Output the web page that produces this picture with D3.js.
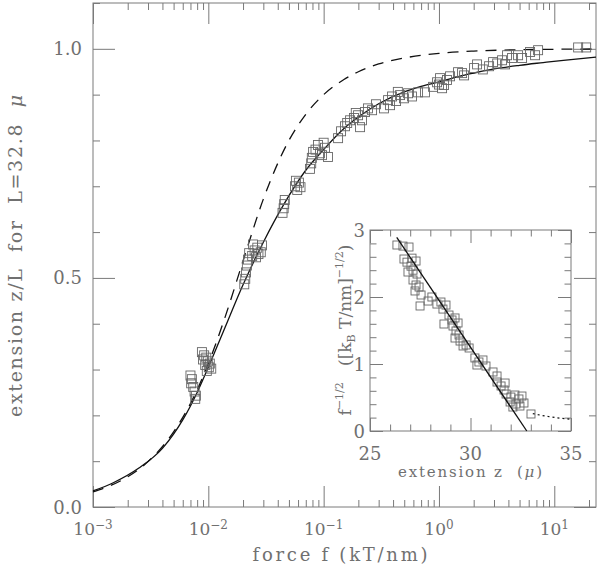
<!DOCTYPE html>
<html>
<head>
<meta charset="utf-8">
<script src="https://cdn.jsdelivr.net/npm/d3@7.9.0/dist/d3.min.js"></script>
<style>
body { margin: 0; background: #fff; }
svg { display: block; }
text { font-family: "DejaVu Serif", serif; fill: #707070; }
</style>
</head>
<body>
<svg width="600" height="573"></svg>
<script>
// ---- main panel: extension vs force ----
// solid curve (fit)
const wlcForce = [0.001, 0.0015, 0.0025, 0.004, 0.006, 0.008, 0.01, 0.0135, 0.02, 0.03, 0.045, 0.07, 0.1, 0.15, 0.2, 0.3, 0.5, 0.7, 1, 1.5, 2, 3, 5, 8, 12, 23];
const wlcExt   = [0.035, 0.053, 0.085, 0.128, 0.19, 0.25, 0.305, 0.383, 0.485, 0.578, 0.66, 0.735, 0.78, 0.826, 0.851, 0.88, 0.906, 0.918, 0.928, 0.94, 0.947, 0.956, 0.964, 0.97, 0.975, 0.982];
// dashed curve
const fjcForce = [0.001, 0.002, 0.003, 0.005, 0.007, 0.01, 0.014, 0.02, 0.03, 0.05, 0.07, 0.1, 0.15, 0.2, 0.3, 0.5, 1, 2, 5, 10, 23];
const fjcExt   = [0.033, 0.066, 0.099, 0.164, 0.226, 0.313, 0.415, 0.537, 0.672, 0.8, 0.857, 0.9, 0.933, 0.95, 0.967, 0.98, 0.99, 0.995, 0.998, 0.999, 0.9996];
// measured points
const dataForce = [
  0.0070, 0.0072, 0.0071, 0.0074, 0.0076, 0.0078, 0.0077,
  0.0088, 0.0092, 0.0096, 0.0099, 0.0103, 0.0090, 0.0094, 0.0101, 0.0106, 0.0097,
  0.0205, 0.0209, 0.0212, 0.0216, 0.0221, 0.0226, 0.0244, 0.0252, 0.0259, 0.0266, 0.0272, 0.0285, 0.0292, 0.0240,
  0.0440, 0.0450, 0.0455, 0.0460, 0.0565, 0.0590, 0.0610, 0.0630, 0.0575,
  0.0762, 0.0780, 0.0790, 0.0810, 0.0894, 0.0930, 0.0968, 0.1028, 0.1090, 0.1000, 0.0850,
  0.1334, 0.1416, 0.1533, 0.1695, 0.1835, 0.1988, 0.2069, 0.2153, 0.2286, 0.2426, 0.263, 0.2847, 0.160, 0.190,
  0.334, 0.3766, 0.362, 0.392, 0.4246, 0.46, 0.498, 0.5395, 0.584, 0.6587, 0.757, 0.44,
  0.889, 0.963, 1.022, 1.064, 1.107, 1.175, 1.248, 1.464, 1.651, 1.0,
  1.586, 2.016, 2.14, 2.72, 2.946, 3.526, 3.744, 3.895, 4.305, 4.853, 5.256, 6.166, 6.815, 7.237, 2.4, 3.2,
  16.1, 18.9
];
const dataExt = [
  0.287, 0.279, 0.270, 0.262, 0.252, 0.243, 0.236,
  0.338, 0.331, 0.326, 0.318, 0.313, 0.322, 0.310, 0.305, 0.302, 0.297,
  0.486, 0.498, 0.512, 0.527, 0.540, 0.554, 0.573, 0.560, 0.545, 0.566, 0.552, 0.556, 0.571, 0.548,
  0.642, 0.652, 0.661, 0.670, 0.700, 0.692, 0.708, 0.698, 0.712,
  0.738, 0.750, 0.762, 0.775, 0.790, 0.772, 0.768, 0.784, 0.764, 0.795, 0.780,
  0.805, 0.820, 0.831, 0.844, 0.849, 0.855, 0.829, 0.844, 0.862, 0.870, 0.866, 0.879, 0.838, 0.860,
  0.870, 0.877, 0.888, 0.896, 0.886, 0.899, 0.892, 0.903, 0.896, 0.905, 0.905, 0.906,
  0.917, 0.927, 0.936, 0.914, 0.921, 0.932, 0.940, 0.949, 0.942, 0.922,
  0.947, 0.958, 0.966, 0.962, 0.971, 0.975, 0.966, 0.986, 0.980, 0.986, 0.980, 0.993, 0.986, 0.997, 0.955, 0.968,
  1.003, 1.003
];
const xMajor = [1e-3, 1e-2, 1e-1, 1, 10];
const xExpLabels = ['\u22123', '\u22122', '\u22121', '0', '1'];
const yMajor = [0, 0.5, 1.0];
const yLabels = ['0.0', '0.5', '1.0'];

// ---- inset: f^-1/2 vs extension ----
const insetZ = [26.34, 26.64, 26.94, 26.69, 26.84, 27.09, 27.29, 27.04, 26.89, 27.14, 27.34, 27.14, 27.29, 27.24, 27.44, 27.54, 27.49, 28.08, 27.89, 28.33, 28.53, 28.78, 28.63, 28.68, 28.93, 29.08, 29.23, 29.13, 29.38, 29.28, 29.43, 29.23, 29.48, 29.63, 29.78, 29.93, 30.22, 30.42, 30.62, 30.32, 30.77, 31.12, 31.32, 31.32, 31.52, 31.72, 31.67, 31.77, 32.01, 32.21, 32.41, 32.56, 31.97, 32.26, 32.46, 32.66, 32.11, 33.01];
const insetF = [2.776, 2.76, 2.746, 2.567, 2.52, 2.58, 2.537, 2.46, 2.373, 2.40, 2.343, 2.254, 2.179, 2.09, 2.149, 2.03, 1.866, 2.0, 1.94, 1.895, 1.925, 1.88, 1.82, 1.597, 1.731, 1.657, 1.687, 1.567, 1.612, 1.493, 1.433, 1.388, 1.343, 1.269, 1.284, 1.239, 1.09, 1.03, 1.06, 0.985, 0.97, 0.881, 0.821, 0.731, 0.672, 0.716, 0.612, 0.552, 0.507, 0.537, 0.478, 0.522, 0.433, 0.403, 0.373, 0.418, 0.358, 0.254];
const fitZ = [26.33, 32.8];
const fitF = [2.89, 0];
const tailZ = [33.1, 33.5, 34, 34.5, 35];
const tailF = [0.26, 0.235, 0.21, 0.19, 0.175];
const zMajor = [25, 30, 35];
const fMajor = [0, 1, 2, 3];

const frameColor = '#7a7a7a';
const svg = d3.select('svg');

// scales
const x = d3.scaleLog().domain([1e-3, 23]).range([93, 596]);
const y = d3.scaleLinear().domain([0, 1.1]).range([507, 3]);
const xi = d3.scaleLinear().domain([25, 35]).range([370, 571]);
const yi = d3.scaleLinear().domain([0, 3]).range([431, 230]);

// draw inward ticks with d3 axes, labels done separately
function drawTicks(axis, tx, ty, values, size) {
  const g = svg.append('g')
    .attr('transform', `translate(${tx},${ty})`)
    .call(axis.tickValues(values).tickSize(size).tickSizeOuter(0).tickFormat(''));
  g.select('.domain').remove();
  g.selectAll('line').attr('stroke', frameColor).attr('stroke-width', 1);
}

// main frame
svg.append('rect')
  .attr('x', 93).attr('y', 3).attr('width', 503).attr('height', 504)
  .attr('fill', 'none').attr('stroke', frameColor);

const xMinor = d3.range(-3, 2).flatMap(e => d3.range(2, 10).map(m => m * Math.pow(10, e))).filter(v => v <= 23);
const yMinor = d3.range(0, 1.11, 0.1).filter(v => Math.abs(v * 2 - Math.round(v * 2)) > 0.01);

drawTicks(d3.axisBottom(x), 0, 507, xMajor, -21);
drawTicks(d3.axisBottom(x), 0, 507, xMinor, -7);
drawTicks(d3.axisTop(x), 0, 3, xMajor, -21);
drawTicks(d3.axisTop(x), 0, 3, xMinor, -7);
drawTicks(d3.axisLeft(y), 93, 0, yMajor, -22);
drawTicks(d3.axisLeft(y), 93, 0, yMinor, -7);
drawTicks(d3.axisRight(y), 596, 0, yMajor, -22);
drawTicks(d3.axisRight(y), 596, 0, yMinor, -7);

// x tick labels 10^n
xMajor.forEach((v, i) => {
  const t = svg.append('text')
    .attr('x', x(v)).attr('y', 535)
    .attr('text-anchor', 'middle')
    .style('font-size', '17px');
  t.append('tspan').text('10');
  t.append('tspan').attr('dy', -6).style('font-size', '12px').text(xExpLabels[i]);
});
// y tick labels
yMajor.forEach((v, i) => {
  svg.append('text')
    .attr('x', 82).attr('y', y(v) + 6.5)
    .attr('text-anchor', 'end')
    .style('font-size', '18px')
    .text(yLabels[i]);
});

// axis titles
svg.append('text')
  .attr('x', 340).attr('y', 561)
  .attr('text-anchor', 'middle')
  .attr('textLength', 175)
  .style('font-size', '18px')
  .text('force f (kT/nm)');

const yt = svg.append('text')
  .attr('transform', 'translate(22,256) rotate(-90)')
  .attr('text-anchor', 'middle')
  .attr('textLength', 322)
  .style('font-size', '19px')
  .style('white-space', 'pre');
yt.append('tspan').text('extension z/L  for  L=32.8  ');
yt.append('tspan').style('font-style', 'italic').text('\u03bc');

// curves
const lineMain = d3.line().x(d => x(d[0])).y(d => y(d[1])).curve(d3.curveMonotoneX);
svg.append('path')
  .datum(fjcForce.map((f, i) => [f, fjcExt[i]]))
  .attr('d', lineMain)
  .attr('fill', 'none').attr('stroke', '#111').attr('stroke-width', 1.3)
  .attr('stroke-dasharray', '11,8');
svg.append('path')
  .datum(wlcForce.map((f, i) => [f, wlcExt[i]]))
  .attr('d', lineMain)
  .attr('fill', 'none').attr('stroke', '#111').attr('stroke-width', 1.3);

// data squares
const sq = 9;
svg.append('g').selectAll('rect')
  .data(dataForce.map((f, i) => [f, dataExt[i]]))
  .join('rect')
  .attr('x', d => x(d[0]) - sq / 2).attr('y', d => y(d[1]) - sq / 2)
  .attr('width', sq).attr('height', sq)
  .attr('fill', 'none').attr('stroke', '#666').attr('stroke-width', 0.9);

// ---- inset ----
svg.append('rect')
  .attr('x', 370).attr('y', 230).attr('width', 201).attr('height', 201)
  .attr('fill', '#fff').attr('stroke', frameColor);

const zMinor = d3.range(26, 35).filter(v => v !== 30);
const fMinor = d3.range(0.2, 3, 0.2).filter(v => Math.abs(v - Math.round(v)) > 0.01);
drawTicks(d3.axisBottom(xi), 0, 431, zMajor, -13);
drawTicks(d3.axisBottom(xi), 0, 431, zMinor, -6.5);
drawTicks(d3.axisTop(xi), 0, 230, zMajor, -13);
drawTicks(d3.axisTop(xi), 0, 230, zMinor, -6.5);
drawTicks(d3.axisLeft(yi), 370, 0, fMajor, -13);
drawTicks(d3.axisLeft(yi), 370, 0, fMinor, -6.5);
drawTicks(d3.axisRight(yi), 571, 0, fMajor, -13);
drawTicks(d3.axisRight(yi), 571, 0, fMinor, -6.5);

zMajor.forEach(v => {
  svg.append('text')
    .attr('x', xi(v)).attr('y', 460)
    .attr('text-anchor', 'middle')
    .style('font-size', '18px')
    .text(v);
});
fMajor.forEach(v => {
  svg.append('text')
    .attr('x', 365).attr('y', yi(v) + 6.5)
    .attr('text-anchor', 'end')
    .style('font-size', '18px')
    .text(v);
});

const xt = svg.append('text')
  .attr('x', 470).attr('y', 477)
  .attr('text-anchor', 'middle')
  .attr('textLength', 144)
  .style('font-size', '15px')
  .style('white-space', 'pre');
xt.append('tspan').text('extension z  (');
xt.append('tspan').style('font-style', 'italic').text('\u03bc');
xt.append('tspan').text(')');

const ft = svg.append('text')
  .attr('transform', 'translate(351,330) rotate(-90)')
  .attr('text-anchor', 'middle')
  .style('font-size', '17px')
  .style('white-space', 'pre');
ft.append('tspan').text('f');
ft.append('tspan').attr('dy', -8).style('font-size', '11px').text('\u22121/2');
ft.append('tspan').attr('dy', 8).text('   ([k');
ft.append('tspan').attr('dy', 4).style('font-size', '11px').text('B');
ft.append('tspan').attr('dy', -4).text(' T/nm]');
ft.append('tspan').attr('dy', -8).style('font-size', '11px').text('\u22121/2');
ft.append('tspan').attr('dy', 8).text(')');

const lineInset = d3.line().x(d => xi(d[0])).y(d => yi(d[1]));
svg.append('g').selectAll('rect')
  .data(insetZ.map((z, i) => [z, insetF[i]]))
  .join('rect')
  .attr('x', d => xi(d[0]) - 4).attr('y', d => yi(d[1]) - 4)
  .attr('width', 8).attr('height', 8)
  .attr('fill', 'none').attr('stroke', '#666').attr('stroke-width', 0.9);
svg.append('path')
  .datum(fitZ.map((z, i) => [z, fitF[i]]))
  .attr('d', lineInset)
  .attr('fill', 'none').attr('stroke', '#111').attr('stroke-width', 1.3);
svg.append('path')
  .datum(tailZ.map((z, i) => [z, tailF[i]]))
  .attr('d', lineInset.curve(d3.curveMonotoneX))
  .attr('fill', 'none').attr('stroke', '#111').attr('stroke-width', 1.2)
  .attr('stroke-dasharray', '2,3');
</script>
</body>
</html>
